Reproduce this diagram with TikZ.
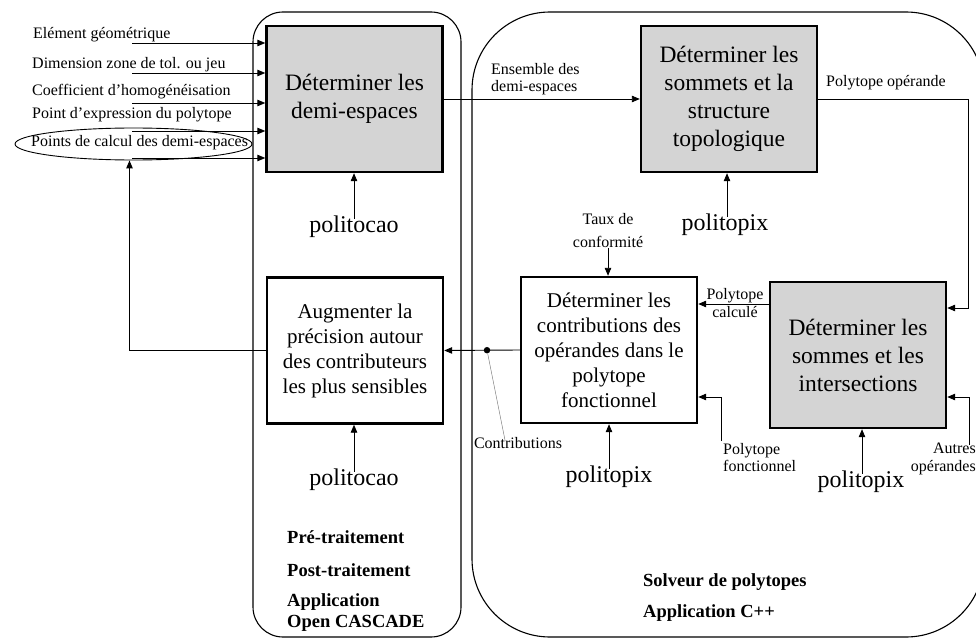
\documentclass[tikz,border=0pt]{standalone}
\usepackage{fontspec}
\setmainfont{Liberation Serif}
\usetikzlibrary{arrows.meta,shapes.geometric}
\definecolor{boxgray}{RGB}{212,212,212}
\begin{document}
\begin{tikzpicture}[x=1pt,y=-1pt,
  proc/.style={draw, line width=2.4pt, minimum width=176pt, minimum height=146pt, align=center, inner sep=0pt, font=\fontsize{23.5}{28}\selectfont},
  procg/.style={proc, fill=boxgray},
  procs/.style={proc, font=\fontsize{21}{25}\selectfont},
  cont/.style={draw, line width=1.1pt},
  arr/.style={-{Triangle[length=8pt,width=6.5pt]}, line width=0.9pt},
  lbl/.style={font=\fontsize{16}{17.5}\selectfont, inner sep=0pt},
  tool/.style={font=\fontsize{24}{28}\selectfont, inner sep=1pt},
  boldlbl/.style={font=\fontsize{18.5}{21}\selectfont\bfseries, inner sep=0pt, anchor=west, align=left}]
\useasboundingbox (0,0) rectangle (976,639);

% containers
\draw[cont, rounded corners=30pt] (253,12) rectangle (461,637);
\draw[cont, rounded corners=78pt] (472,12) rectangle (984,637);

% process boxes
\node[procg] (b1) at (354.5,99) {Déterminer les\\demi-espaces};
\node[procg] (b2) at (729,99) {Déterminer les\\sommets et la\\structure\\topologique};
\node[procs] (b3) at (355,350.5) {Augmenter la\\précision autour\\des contributeurs\\les plus sensibles};
\node[procs] (b4) at (609,350) {Déterminer les\\contributions des\\opérandes dans le\\polytope\\fonctionnel};
\node[procg] (b5) at (858,355) {Déterminer les\\sommes et les\\intersections};

% input labels
\node[lbl, anchor=west] (t1) at (33,35) {Elément géométrique};
\node[lbl, anchor=west] (t2) at (32,65) {Dimension zone de tol. ou jeu};
\node[lbl, anchor=west] (t3) at (32,92) {Coefficient d’homogénéisation};
\node[lbl, anchor=west] (t4) at (32,115) {Point d’expression du polytope};
\node[draw, ellipse, line width=0.9pt, minimum width=237pt, minimum height=32pt, inner sep=0pt] (ell) at (133.5,144) {};
\node[lbl, anchor=west] (t5) at (31,143) {Points de calcul des demi-espaces};

\coordinate (i1) at (132,43);
\coordinate (i2) at (132,73);
\coordinate (i3) at (132,103);
\coordinate (i4) at (132,131);
\coordinate (i5) at (132,158);
\foreach \i in {1,...,5} {\draw[arr] (i\i) -- (i\i -| b1.west);}

% b1 -> b2
\draw[arr] (b1.east) -- (b2.west);
\node[lbl, anchor=west, align=left] (ens) at (491,79) {Ensemble des\\demi-espaces};

% b2 -> b5
\draw[arr] (b2.east) -- ++(150,0) |- (b5.east |- 0,308);
\node[lbl, anchor=west] (pop) at (826,83) {Polytope opérande};

% b5 -> b4
\draw[arr] (b5.west |- 0,304) -- (b4.east |- 0,304);
\node[lbl, align=center, font=\fontsize{16}{18}\selectfont] (pcal) at (735,303) {Polytope\\calculé};

% b4 -> b3 with contributions
\draw[arr] (b4.west) -- (b3.east);
\node[circle, fill, inner sep=0pt, minimum size=6.5pt] (dot) at (487,350.2) {};
\node[lbl] (ctr) at (518,443) {Contributions};
\draw[line width=0.5pt, gray] (dot) -- ([xshift=-13pt,yshift=-3pt]ctr.north);

% feedback
\draw[arr] (b3.west) -| ([xshift=-4pt]ell.south);

% taux de conformite
\node[lbl, align=center, font=\fontsize{16}{23}\selectfont] (taux) at (608,231) {Taux de\\conformité};
\draw[arr] (taux.south) -- (taux.south |- b4.north);

% polytope fonctionnel
\node[lbl, align=left, anchor=north west] (pf) at (723,443) {Polytope\\fonctionnel};
\draw[arr] ([xshift=-2pt,yshift=2pt]pf.north west) |- (b4.east |- 0,397);

% autres operandes
\node[lbl, align=right, anchor=north east] (ao) at (976,443) {Autres\\opérandes};
\coordinate (aoc) at (969,445);
\draw[arr] (aoc) |- (b5.east |- 0,397);

% tools
\node[tool] (p1) at (354,227) {politocao};
\node[tool] (p2) at (725,225) {politopix};
\node[tool] (p3) at (609,477) {politopix};
\node[tool] (p4) at (861,482) {politopix};
\node[tool] (p5) at (354,480) {politocao};
\draw[arr] ([yshift=-4pt]p1.north) -- (p1.north |- b1.south);
\draw[arr] ([xshift=2pt,yshift=-4pt]p2.north) -- ([xshift=2pt]p2.north |- b2.south);
\draw[arr] ([yshift=-4pt]p3.north) -- (p3.north |- b4.south);
\draw[arr] ([xshift=1pt,yshift=-4pt]p4.north) -- ([xshift=1pt]p4.north |- b5.south);
\draw[arr] ([yshift=-4pt]p5.north) -- (p5.north |- b3.south);

% bold captions
\node[boldlbl] (pre) at (287,537) {Pré-traitement};
\node[boldlbl] (post) at (287,570) {Post-traitement};
\node[boldlbl] (app) at (287,612.5) {Application\\Open CASCADE};
\node[boldlbl] (solv) at (643,582) {Solveur de polytopes};
\node[boldlbl] (appc) at (643,613) {Application C++};
\end{tikzpicture}
\end{document}
